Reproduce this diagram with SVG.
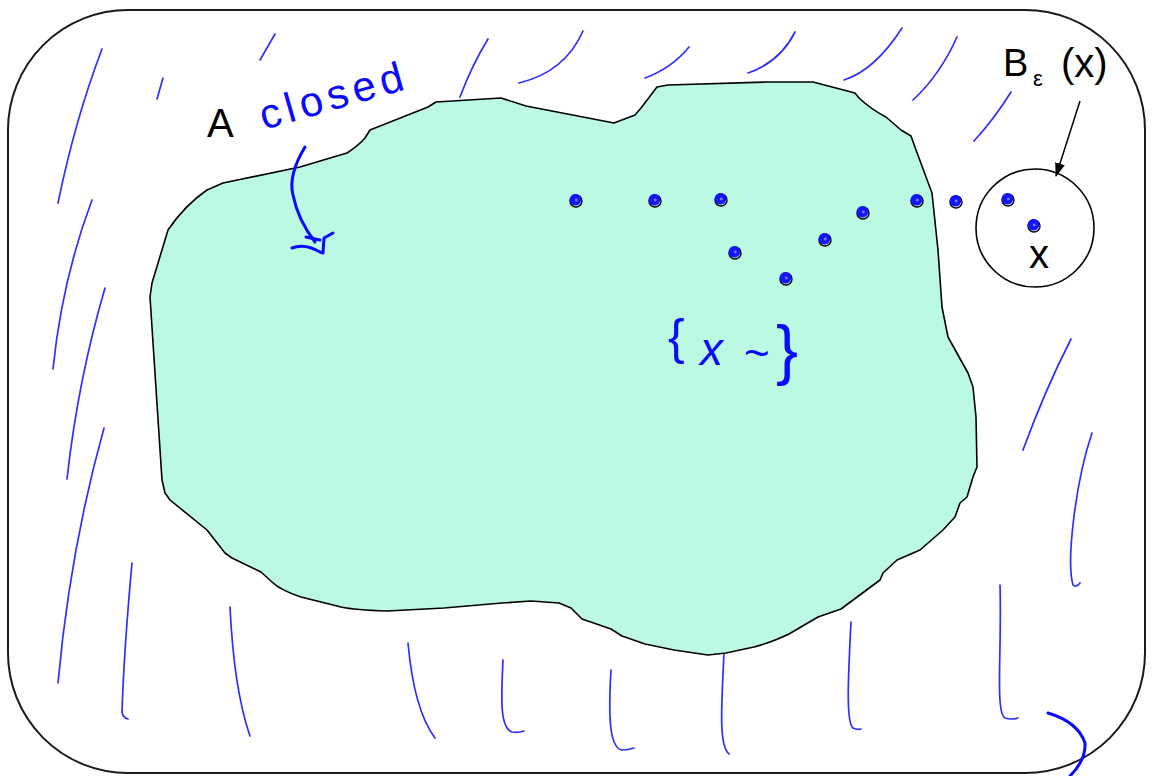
<svg xmlns="http://www.w3.org/2000/svg" width="1152" height="776" viewBox="0 0 1152 776">
<style>
.hatch{fill:none;stroke:#2f2fff;stroke-width:1.7;stroke-linecap:round}
.pen{fill:none;stroke:#0a0aff;stroke-width:3;stroke-linecap:round;stroke-linejoin:round}
.lbl{font-family:"Liberation Sans",Arial,sans-serif;fill:#000}
.hand{font-family:"Liberation Sans",Arial,sans-serif;fill:#0a0aff}
</style>
<defs>
<marker id="ah" markerWidth="14" markerHeight="10" refX="13" refY="5" orient="auto" markerUnits="userSpaceOnUse">
<path d="M0,0 L14,5 L0,10 Z" fill="#000"/>
</marker>
<g id="dot">
<circle r="6" fill="none" stroke="#000" stroke-width="1.4"/>
<circle cx="-0.6" cy="-1.2" r="5.8" fill="#1414ff"/>
<circle cx="0.3" cy="-1" r="1.4" fill="#6f80ff"/>
</g>
</defs>
<rect width="1152" height="776" fill="#fff"/>
<g id="space">
<rect x="8" y="10" width="1137" height="763" rx="120" ry="120" fill="#fff" stroke="#1a1a1a" stroke-width="2"/>
</g>
<g id="hatching">
<path class="hatch" d="M102,49 Q75,120 58,203"/>
<path class="hatch" d="M92,200 Q62,280 53,369"/>
<path class="hatch" d="M105,288 Q78,380 67,479"/>
<path class="hatch" d="M104,428 Q70,550 58,683"/>
<path class="hatch" d="M132,563 Q124,650 122,712 Q123,718 128,719"/>
<path class="hatch" d="M163,78 L157,99"/>
<path class="hatch" d="M275,34 L260,60"/>
<path class="hatch" d="M488,39 Q472,65 460,97"/>
<path class="hatch" d="M519,83 Q565,72 583,31"/>
<path class="hatch" d="M645,78 Q672,68 689,47"/>
<path class="hatch" d="M748,73 Q780,62 795,32"/>
<path class="hatch" d="M844,80 Q875,70 902,28"/>
<path class="hatch" d="M913,100 Q940,75 957,37"/>
<path class="hatch" d="M974,141 Q995,118 1011,92"/>
<path class="hatch" d="M1071,339 Q1045,390 1023,450"/>
<path class="hatch" d="M1092,433 C1076,480 1066,560 1073,585 Q1076,588 1080,583"/>
<path class="hatch" d="M230,607 Q234,690 250,736"/>
<path class="hatch" d="M408,643 Q414,710 435,738"/>
<path class="hatch" d="M503,660 C501,700 500,728 512,732 Q518,733 524,731"/>
<path class="hatch" d="M611,670 C608,720 610,748 622,750 Q628,750 634,748"/>
<path class="hatch" d="M724,652 C722,700 718,745 729,754"/>
<path class="hatch" d="M851,622 C848,680 846,722 853,728 Q857,730 861,729"/>
<path class="hatch" d="M1000,585 C1002,650 995,712 1005,718 Q1011,720 1018,718"/>
<path class="pen" d="M1048,713 Q1078,722 1085,743 Q1086,760 1070,776"/>
</g>
<g id="setA">
<path d="M150,297 L152,283 L168,230 Q185,205 207,190 L223,183 L300,167 L347,153 Q358,146 365,138 L370,130 L428,107 L436,102 L501,98 L526,106 L614,123 L635,115 L641,108 L657,87 L668,85 L767,82 L813,82 L855,93 L859,98 Q872,110 886,117 L901,130 L911,136 L916,150 L932,193 L938,250 L942,307 L948,337 L968,373 L973,387 L976,417 L977,467 L973,477 L967,497 L960,503 L955,517 L943,530 L920,550 L897,560 L883,573 L880,580 L841,609 L818,617 L789,634 Q770,643 754,647 L726,653 L708,655 L674,650 L645,644 L622,636 L611,629 L582,619 L571,608 L559,603 L531,601 L502,603 L444,608 L387,611 Q355,610 341,607 L301,597 Q280,590 272,582 L261,572 L232,558 L225,553 L207,530 L170,500 L165,493 L162,480 Z" fill="#bbf9e2" stroke="#000" stroke-width="1.6" stroke-linejoin="round"/>
<text class="lbl" x="207" y="137" font-size="40">A</text>
<text class="hand" x="264" y="130" font-size="42" transform="rotate(-16 264 130)" textLength="148" lengthAdjust="spacing">closed</text>
</g>
<g id="sequence">
<use href="#dot" x="576" y="201"/>
<use href="#dot" x="655" y="201"/>
<use href="#dot" x="721" y="200"/>
<use href="#dot" x="735" y="253"/>
<use href="#dot" x="786" y="279"/>
<use href="#dot" x="825" y="240"/>
<use href="#dot" x="863" y="213"/>
<use href="#dot" x="917" y="201"/>
<use href="#dot" x="956" y="202"/>
<use href="#dot" x="1008" y="200"/>
<use href="#dot" x="1034" y="226"/>
<text class="hand" x="668" y="354" font-size="50">{</text>
<text class="hand" x="700" y="365" font-size="46" font-style="italic">x</text>
<text class="hand" x="744" y="368" font-size="44">~</text>
<text class="hand" x="776" y="372" font-size="66">}</text>
</g>
<g id="ball">
<circle cx="1035" cy="228" r="59" fill="none" stroke="#000" stroke-width="1.6"/>
<text class="lbl" x="1029" y="268" font-size="40">x</text>
<text class="lbl" x="1003" y="76" font-size="38">B</text>
<text class="lbl" x="1033" y="86" font-size="22">ε</text>
<text class="lbl" x="1061" y="77" font-size="40">(x)</text>
</g>
<g id="connectors">
<path d="M1080,101 L1056,176" fill="none" stroke="#000" stroke-width="1.5" marker-end="url(#ah)"/>
<path class="pen" d="M305,147 Q288,175 293,195 Q298,220 315,242"/>
<path class="pen" d="M292,248 Q305,243 320,252 L323,253 L324,238 L333,233 M306,237 L320,240"/>
</g>
</svg>
